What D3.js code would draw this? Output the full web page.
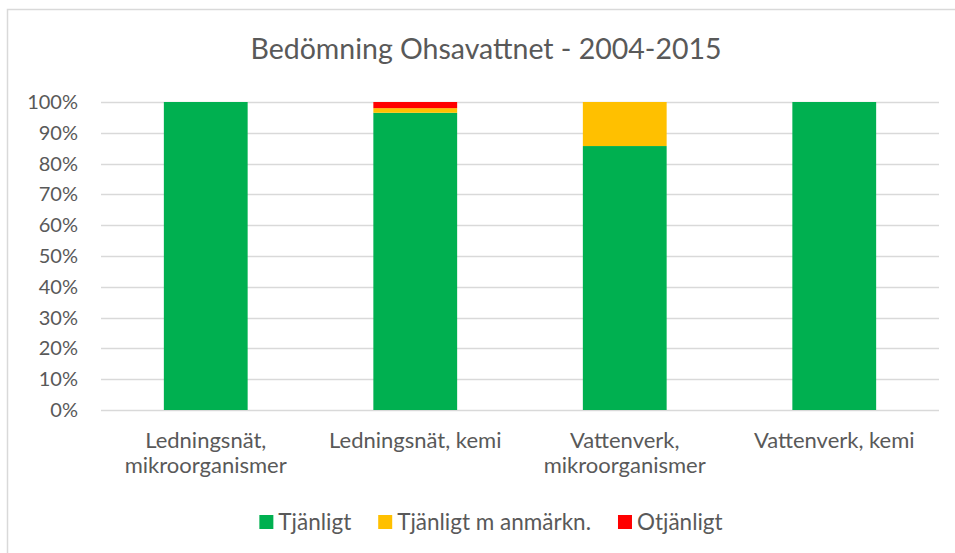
<!DOCTYPE html>
<html>
<head>
<meta charset="utf-8">
<script src="https://cdn.jsdelivr.net/npm/d3@7"></script>
<style>
  body { margin: 0; background: #fff; overflow: hidden; }
  text { font-family: Lato, "Open Sans", sans-serif; fill: #595959; }
</style>
</head>
<body>
<div id="chart"></div>
<script>
// categories (two-line labels)
var categories = ["Ledningsnät, mikroorganismer", "Ledningsnät, kemi", "Vattenverk, mikroorganismer", "Vattenverk, kemi"];
var categoryLines = [["Ledningsnät,", "mikroorganismer"], ["Ledningsnät, kemi"], ["Vattenverk,", "mikroorganismer"], ["Vattenverk, kemi"]];
var seriesNames = ["Tjänligt", "Tjänligt m anmärkn.", "Otjänligt"];
var seriesColors = ["#00B050", "#FFC000", "#FF0000"];
var tjanligt = [100, 96.5, 85.7, 100];
var anmarkn = [0, 1.5, 14.3, 0];
var otjanligt = [0, 2, 0, 0];
var yTicks = [0, 10, 20, 30, 40, 50, 60, 70, 80, 90, 100];

var W = 955, H = 553;
var margin = { top: 102, right: 16, bottom: 143, left: 101 };
var width = W - margin.left - margin.right,
    height = H - margin.top - margin.bottom;

var svg = d3.select("#chart").append("svg")
    .attr("width", W)
    .attr("height", H)
    .style("display", "block");

// outer chart border (right and bottom edges fall outside the picture)
svg.append("rect")
    .attr("x", 7.5).attr("y", 9.5)
    .attr("width", W).attr("height", H)
    .attr("fill", "none")
    .attr("stroke", "#D9D9D9")
    .attr("stroke-width", 1.5);

svg.append("text")
    .attr("x", 486).attr("y", 59)
    .attr("text-anchor", "middle")
    .style("font-size", "28.5px")
    .text("Bedömning Ohsavattnet - 2004-2015");

var g = svg.append("g")
    .attr("transform", "translate(" + margin.left + "," + margin.top + ")");

var xScale = d3.scaleBand()
    .domain(categories)
    .range([0, width])
    .paddingInner(0.6)
    .paddingOuter(0.3);

var yScale = d3.scaleLinear()
    .domain([0, 100])
    .range([height, 0]);

// gridlines
g.selectAll(".grid")
    .data(yTicks)
    .enter().append("line")
    .attr("x1", 0).attr("x2", width)
    .attr("y1", function(d) { return Math.round(yScale(d)) + 0.5; })
    .attr("y2", function(d) { return Math.round(yScale(d)) + 0.5; })
    .attr("stroke", "#D9D9D9")
    .attr("stroke-width", 1.5);

// y-axis labels
var yAxis = d3.axisLeft(yScale)
    .tickValues(yTicks)
    .tickFormat(function(d) { return d + "%"; })
    .tickSize(0)
    .tickPadding(23);
var yg = g.append("g").call(yAxis);
yg.select(".domain").remove();
yg.selectAll("text").style("font-size", "20px").style("font-family", "Lato").attr("fill", "#595959");

// stack data
var rows = categories.map(function(c, i) {
    return { cat: c, s0: tjanligt[i], s1: anmarkn[i], s2: otjanligt[i] };
});
var stack = d3.stack().keys(["s0", "s1", "s2"]);
var layers = stack(rows);

g.selectAll(".layer")
    .data(layers)
    .enter().append("g")
    .attr("fill", function(d, i) { return seriesColors[i]; })
    .selectAll("rect")
    .data(function(d) { return d; })
    .enter().append("rect")
    .attr("x", function(d) { return xScale(d.data.cat); })
    .attr("width", xScale.bandwidth())
    .attr("y", function(d) { return yScale(d[1]); })
    .attr("height", function(d) { return yScale(d[0]) - yScale(d[1]); });

// x-axis category labels
var xl = g.selectAll(".xlab")
    .data(categories)
    .enter().append("text")
    .attr("text-anchor", "middle")
    .attr("x", function(d) { return xScale(d) + xScale.bandwidth() / 2; })
    .attr("y", height + 38)
    .style("font-size", "22px");
xl.each(function(d, i) {
    var t = d3.select(this);
    categoryLines[i].forEach(function(line, j) {
        t.append("tspan")
            .attr("x", xScale(d) + xScale.bandwidth() / 2)
            .attr("dy", j === 0 ? 0 : 25)
            .text(line);
    });
});

// legend, laid out from measured text widths and centred
var legend = svg.append("g");
var items = legend.selectAll(".item")
    .data(seriesNames)
    .enter().append("g");
items.append("rect")
    .attr("y", 515)
    .attr("width", 14).attr("height", 14)
    .attr("fill", function(d, i) { return seriesColors[i]; });
items.append("text")
    .attr("x", 19).attr("y", 530)
    .style("font-size", "22.5px")
    .text(function(d) { return d; });
var lx = 0;
items.each(function() {
    var w = d3.select(this).select("text").node().getComputedTextLength();
    d3.select(this).attr("transform", "translate(" + lx + ",0)");
    lx += 19 + w + 27;
});
lx -= 27;
legend.attr("transform", "translate(" + (491 - lx / 2) + ",0)");
</script>
</body>
</html>
